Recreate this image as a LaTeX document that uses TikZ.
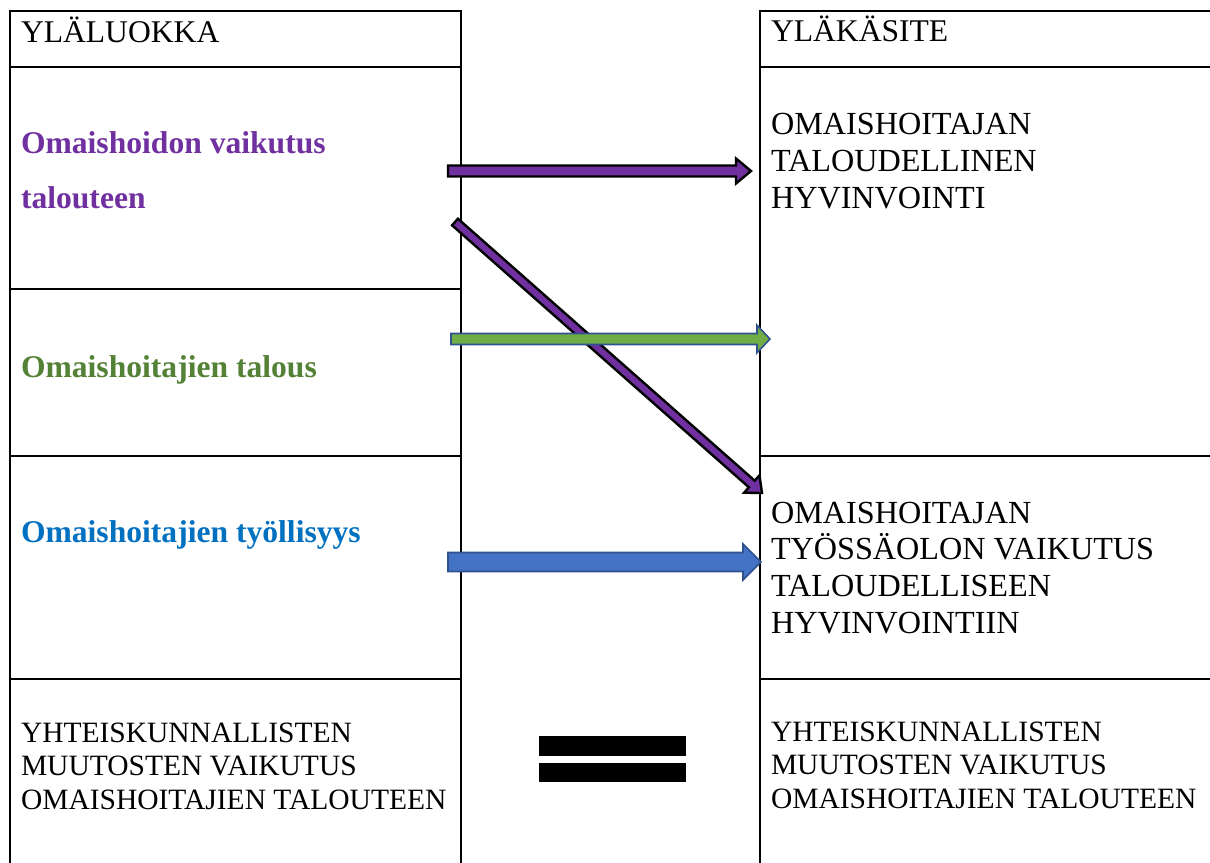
\documentclass[tikz,border=0pt]{standalone}
\usepackage{fontspec}
\setmainfont{Liberation Serif}
\usepackage{tikz}
\usetikzlibrary {calc,
                 positioning}
\definecolor{ohPurple}{HTML}{7030A0}
\definecolor{ohGreen}{HTML}{538135}
\definecolor{ohBlue}{HTML}{0070C0}
\definecolor{arGreen}{HTML}{70AD47}
\definecolor{arBlue}{HTML}{4472C4}
\definecolor{arEdge}{HTML}{2F528F}
\tikzset{
        cell/.style={draw, line width=1pt, rectangle, inner sep=0pt,
                     outer sep=0pt},
        lcell/.style={cell, minimum width=225.5pt},
        rcell/.style={cell, minimum width=230pt},
        % anchor is the baseline of the last line
        txt/.style={inner sep=0pt, outer sep=0pt, anchor=base west,
                    align=left},
        hdr/.style={txt, font=\fontsize{15.8pt}{18pt}\selectfont},
        cat/.style={txt, font=\fontsize{15.8pt}{27.5pt}\selectfont\bfseries},
        con/.style={txt, font=\fontsize{16.1pt}{18.3pt}\selectfont},
        soc/.style={txt, font=\fontsize{14.75pt}{16.6pt}\selectfont},
        purplearrow/.style={fill=ohPurple, draw=black, line width=1.2pt,
                            line join=miter},
        greenarrow/.style={fill=arGreen, draw=arEdge, line width=0.8pt},
        bluearrow/.style={fill=arBlue, draw=arEdge, line width=0.8pt},
 }
% block arrow: [style]{from}{to}{half shaft}{half head}{head length}
\newcommand\blockarrow[6][]{%
  \coordinate (ba-h) at ($(#3)!#6!(#2)$);
  \draw[#1] ($(#2)!#4!90:(#3)$) -- ($(ba-h)!#4!90:(#3)$)
     -- ($(ba-h)!#5!90:(#3)$) -- (#3) -- ($(ba-h)!#5!-90:(#3)$)
     -- ($(ba-h)!#4!-90:(#3)$) -- ($(#2)!#4!-90:(#3)$) -- cycle;
}

\begin{document}
\begin{tikzpicture}[x=0.5pt, y=-0.5pt]
    \useasboundingbox (0,0) rectangle (1210,862);
    \clip (0,0) rectangle (1210,862);
    % left column
    \node[lcell, minimum height=28pt, anchor=north west] (hdrL) at (10,11) {};
    \node[lcell, minimum height=111pt, below=0pt of hdrL] (ecoL) {};
    \node[lcell, minimum height=83.5pt, below=0pt of ecoL] (talL) {};
    \node[lcell, minimum height=111.5pt, below=0pt of talL] (tyoL) {};
    \node[lcell, minimum height=100pt, below=0pt of tyoL] (socL) {};
    % right column
    \node[rcell, minimum height=28pt, anchor=north west] (hdrR) at (760,11) {};
    \node[rcell, minimum height=194.5pt, below=0pt of hdrR] (hyvR) {};
    \node[rcell, minimum height=111.5pt, below=0pt of hyvR] (tyoR) {};
    \node[rcell, minimum height=100pt, below=0pt of tyoR] (socR) {};

    % texts
    \node[hdr] (tHdrL) at (21,42) {YLÄLUOKKA};
    \node[hdr] (tHdrR) at (771,41) {YLÄKÄSITE};
    \node[cat, text=ohPurple] (tEco) at (21,208) {Omaishoidon vaikutus\\talouteen};
    \node[cat, text=ohGreen] (tTal) at (21,377) {Omaishoitajien talous};
    \node[cat, text=ohBlue] (tTyo) at (21,542) {Omaishoitajien työllisyys};
    \node[con] (tHyv) at (771,208) {OMAISHOITAJAN\\TALOUDELLINEN\\HYVINVOINTI};
    \node[con] (tTyoR) at (771,633)
        {OMAISHOITAJAN\\TYÖSSÄOLON VAIKUTUS\\TALOUDELLISEEN\\HYVINVOINTIIN};
    \node[soc] (tSocL) at (21,809)
        {YHTEISKUNNALLISTEN\\MUUTOSTEN VAIKUTUS\\OMAISHOITAJIEN TALOUTEEN};
    \node[soc] (tSocR) at (771,808)
        {YHTEISKUNNALLISTEN\\MUUTOSTEN VAIKUTUS\\OMAISHOITAJIEN TALOUTEEN};

    % arrows
    \coordinate (ecoFrom) at (448,171);
    \coordinate (ecoTo) at (751,171);
    \coordinate (diaFrom) at (455,222);
    \coordinate (diaTo) at (762,493);
    \coordinate (talFrom) at (451,339);
    \coordinate (talTo) at (770,339);
    \coordinate (tyoFrom) at (448,562);
    \coordinate (tyoTo) at (761,562);
    \blockarrow[purplearrow]{ecoFrom}{ecoTo}{2.75pt}{6.25pt}{7.5pt}
    \blockarrow[purplearrow]{diaFrom}{diaTo}{2.2pt}{5.8pt}{6.8pt}
    \blockarrow[greenarrow]{talFrom}{talTo}{2.75pt}{6.9pt}{6.5pt}
    \blockarrow[bluearrow]{tyoFrom}{tyoTo}{4.75pt}{9pt}{9pt}

    % equals sign
    \fill (539,736) rectangle (686,756);
    \fill (539,763) rectangle (686,782);
\end{tikzpicture}
\end{document}
